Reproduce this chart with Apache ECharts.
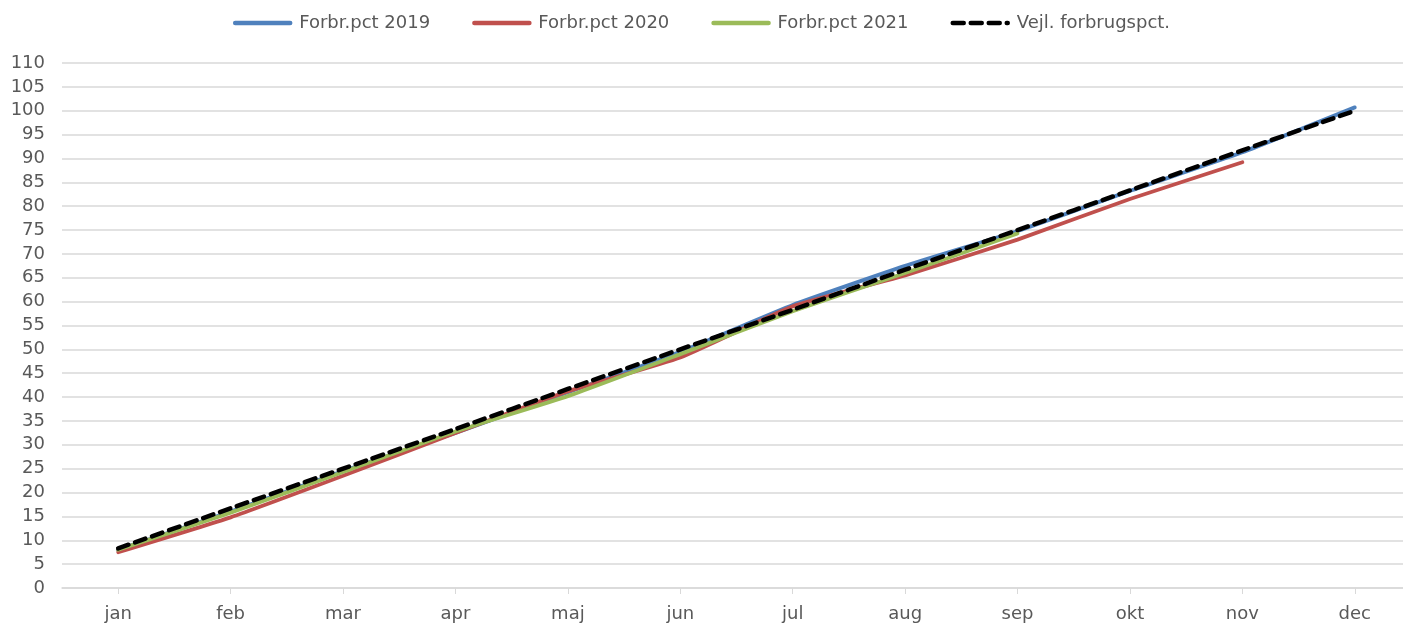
<!DOCTYPE html>
<html><head><meta charset="utf-8">
<script src="https://cdn.jsdelivr.net/npm/echarts@6/dist/echarts.min.js"></script>
<style>html,body{margin:0;padding:0;background:#fff}#c{width:1403px;height:624px}</style>
</head><body><div id="c"></div>
<script>
const months = ['jan','feb','mar','apr','maj','jun','jul','aug','sep','okt','nov','dec'];
const s2019 = [8.0,16.0,24.5,32.5,41.0,49.5,59.3,67.5,74.8,83.2,91.3,100.7];
const s2020 = [7.5,14.8,23.5,32.5,41.2,48.3,59.0,65.5,73.0,81.5,89.2,null];
const s2021 = [8.0,15.8,24.3,32.8,40.2,49.0,58.0,66.0,74.3,null,null,null];
const vejl = [8.3,16.7,25.0,33.3,41.7,50.0,58.3,66.7,75.0,83.3,91.7,100.0];
const names = ['Forbr.pct 2019','Forbr.pct 2020','Forbr.pct 2021','Vejl. forbrugspct.'];
const font = '"DejaVu Sans", sans-serif';
const chart = echarts.init(document.getElementById('c'));
function ln(name, data, color, extra){
  return Object.assign({name, type:'line', data, smooth:0.15, symbol:'none', connectNulls:false,
    lineStyle:{color, width:3.8, cap:'round'}, itemStyle:{color}}, extra||{});
}
chart.setOption({
  animation:false,
  textStyle:{fontFamily:font},
  legend:{top:9, left:'center', itemWidth:55, itemHeight:16, itemGap:42,
    itemStyle:{opacity:0, borderWidth:0},
    lineStyle:{width:4.5},
    textStyle:{color:'#595959', fontSize:18, fontFamily:font, padding:[0,0,0,4]},
    data:names},
  grid:{left:62, top:63, width:1349, height:525, containLabel:false, outerBoundsMode:'none'},
  xAxis:{type:'category', data:months, boundaryGap:true,
    axisLine:{lineStyle:{color:'#d9d9d9', width:1.5}},
    axisTick:{show:true, alignWithLabel:true, length:6, lineStyle:{color:'#d9d9d9'}},
    axisLabel:{color:'#595959', fontSize:18, margin:17, fontFamily:font}},
  yAxis:{type:'value', min:0, max:110, interval:5,
    axisLine:{show:false}, axisTick:{show:false},
    splitLine:{lineStyle:{color:'#d9d9d9', width:1.5}},
    axisLabel:{color:'#595959', fontSize:18, margin:17, fontFamily:font}},
  series:[
    ln(names[0], s2019, '#4f81bd'),
    ln(names[1], s2020, '#c0504d'),
    ln(names[2], s2021, '#9bbb59'),
    ln(names[3], vejl, '#000000', {lineStyle:{color:'#000', width:4.5, type:[11,7], cap:'round'}})
  ]
});
</script></body></html>
